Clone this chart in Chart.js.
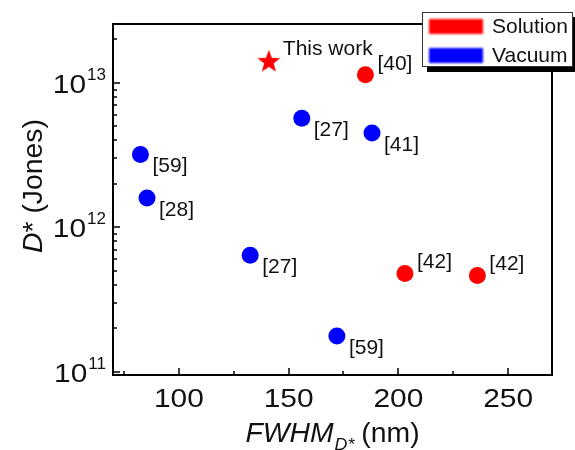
<!DOCTYPE html>
<html>
<head>
<meta charset="utf-8">
<script src="https://cdn.jsdelivr.net/npm/chart.js@4"></script>
<style>
  html, body { margin: 0; padding: 0; background: #fff; }
</style>
</head>
<body>
<canvas id="chart" width="575" height="450"></canvas>
<script>
// values
const solutionX = [185, 203, 236]
const solutionY = [1.14e13, 4.8e11, 4.65e11]
const solutionRefs = ['[40]', '[42]', '[42]']

const vacuumX = [82.5, 85.5, 132.5, 156, 172, 188]
const vacuumY = [3.2e12, 1.6e12, 6.4e11, 5.7e12, 1.77e11, 4.5e12]
const vacuumRefs = ['[59]', '[28]', '[27]', '[27]', '[59]', '[41]']

const thisWorkX = [141]
const thisWorkY = [1.4e13]
const thisWorkRefs = ['This work']

const xTicks = [100, 150, 200, 250]
const xMinorTicks = [75, 125, 175, 225]
const yTicks = [1e11, 1e12, 1e13]
const yTickExp = ['11', '12', '13']
const legendLabels = ['Solution', 'Vacuum']

const FONT = '"Liberation Sans", Arial, sans-serif'

// filled 5 point star for "This work"
function makeStar(r, color) {
    const c = document.createElement('canvas')
    c.width = c.height = r * 2 + 2
    const g = c.getContext('2d')
    g.fillStyle = color
    g.beginPath()
    for (let i = 0; i < 10; i++) {
        const rad = i % 2 == 0 ? r : r * 0.42
        const a = -Math.PI / 2 + i * Math.PI / 5
        g.lineTo(r + 1 + rad * Math.cos(a), r + 1 + rad * Math.sin(a))
    }
    g.closePath()
    g.fill()
    return c
}

function toPoints(xs, ys) {
    return xs.map((x, i) => ({x: x, y: ys[i]}))
}

// text with a bit of horizontal stretch, like the source figure
function txt(ctx, s, x, y, font, align, base, sx) {
    ctx.save()
    ctx.font = font
    ctx.textAlign = align || 'left'
    ctx.textBaseline = base || 'alphabetic'
    ctx.translate(x, y)
    ctx.scale(sx || 1, 1)
    ctx.fillText(s, 0, 0)
    ctx.restore()
}

const refs = [solutionRefs, vacuumRefs, thisWorkRefs]
const labelShift = [[12, -11], [12, 12], [14, -13]] // per dataset: right / up or down

const decorations = {
    id: 'decorations',
    beforeDatasetsDraw(chart) {
        const ctx = chart.ctx
        const a = chart.chartArea
        const xs = chart.scales.x, ys = chart.scales.y
        ctx.save()
        ctx.strokeStyle = '#000'
        ctx.fillStyle = '#111'
        ctx.lineWidth = 2
        ctx.strokeRect(a.left, a.top, a.right - a.left, a.bottom - a.top)

        // inward ticks, bottom axis
        ctx.lineWidth = 1.5
        ctx.beginPath()
        xTicks.forEach(v => {
            const p = Math.round(xs.getPixelForValue(v))
            ctx.moveTo(p, a.bottom); ctx.lineTo(p, a.bottom - 7)
        })
        xMinorTicks.forEach(v => {
            const p = Math.round(xs.getPixelForValue(v))
            ctx.moveTo(p, a.bottom); ctx.lineTo(p, a.bottom - 4)
        })
        // left axis, log ticks
        yTicks.forEach(v => {
            let p = Math.round(ys.getPixelForValue(v))
            ctx.moveTo(a.left, p); ctx.lineTo(a.left + 7, p)
            for (let m = 2; m < 10; m++) {
                if (v * m > ys.max) break
                p = Math.round(ys.getPixelForValue(v * m))
                ctx.moveTo(a.left, p); ctx.lineTo(a.left + 4, p)
            }
        })
        ctx.stroke()

        // tick labels
        xTicks.forEach(v => {
            txt(ctx, String(v), xs.getPixelForValue(v), a.bottom + 32, '26px ' + FONT, 'center', 'alphabetic', 1.15)
        })
        yTicks.forEach((v, i) => {
            const p = ys.getPixelForValue(v)
            ctx.font = '17px ' + FONT
            const w = ctx.measureText(yTickExp[i]).width
            const right = a.left - 7
            txt(ctx, yTickExp[i], right - w, p - 3, '17px ' + FONT, 'left')
            txt(ctx, '10', right - w - 1, p + 10, '26px ' + FONT, 'right', 'alphabetic', 1.15)
        })

        // x title: FWHM_D* (nm)
        const big = '27px ' + FONT, bigI = 'italic 27px ' + FONT, subI = 'italic 17px ' + FONT
        ctx.font = bigI; const w1 = ctx.measureText('FWHM').width
        ctx.font = subI; const w2 = ctx.measureText('D*').width
        ctx.font = big; const w3 = ctx.measureText(' (nm)').width
        const sx = 1.05
        let x0 = (a.left + a.right) / 2 - (w1 + w2 + w3) * sx / 2
        const yb = 442
        txt(ctx, 'FWHM', x0, yb, bigI, 'left', 'alphabetic', sx)
        txt(ctx, 'D*', x0 + w1 * sx + 1, yb + 8, subI, 'left', 'alphabetic', sx)
        txt(ctx, ' (nm)', x0 + (w1 + w2) * sx, yb, big, 'left', 'alphabetic', sx)

        // y title: D* (Jones)
        ctx.save()
        ctx.translate(42, 186)
        ctx.rotate(-Math.PI / 2)
        ctx.font = bigI; const d1 = ctx.measureText('D').width
        ctx.font = big; const d2 = ctx.measureText('* (Jones)').width
        const s0 = -(d1 + d2) * sx / 2
        txt(ctx, 'D', s0, 0, bigI, 'left', 'alphabetic', sx)
        txt(ctx, '* (Jones)', s0 + d1 * sx, 0, big, 'left', 'alphabetic', sx)
        ctx.restore()
        ctx.restore()
    },
    afterDraw(chart) {
        const ctx = chart.ctx
        ctx.save()
        ctx.fillStyle = '#111'
        // point labels
        chart.data.datasets.forEach((ds, di) => {
            const meta = chart.getDatasetMeta(di)
            meta.data.forEach((pt, i) => {
                txt(ctx, refs[di][i], pt.x + labelShift[di][0], pt.y + labelShift[di][1],
                    '21px ' + FONT, 'left', 'middle')
            })
        })

        // legend box with drop shadow
        const bx = 422, by = 12, bw = 151, bh = 55
        ctx.fillStyle = '#000'
        ctx.fillRect(bx + 5, by + 5, bw, bh)
        ctx.fillStyle = '#fff'
        ctx.fillRect(bx, by, bw, bh)
        ctx.strokeStyle = '#333'
        ctx.lineWidth = 1
        ctx.strokeRect(bx + 0.5, by + 0.5, bw - 1, bh - 1)
        legendLabels.forEach((lab, i) => {
            const cy = by + 14 + i * 29
            ctx.save()
            ctx.filter = 'blur(0.8px)'
            ctx.fillStyle = chart.data.datasets[i].backgroundColor
            ctx.fillRect(bx + 7, cy - 7, 54, 15)
            ctx.restore()
            ctx.fillStyle = '#111'
            txt(ctx, lab, bx + 70, cy + 1, '21px ' + FONT, 'left', 'middle')
        })
        ctx.restore()
    }
}

new Chart(document.getElementById('chart'), {
    type: 'scatter',
    data: {
        datasets: [
            {
                label: legendLabels[0],
                data: toPoints(solutionX, solutionY),
                backgroundColor: '#ff0000',
                borderWidth: 0,
                pointRadius: 8.5
            },
            {
                label: legendLabels[1],
                data: toPoints(vacuumX, vacuumY),
                backgroundColor: '#0000ff',
                borderWidth: 0,
                pointRadius: 8.5
            },
            {
                label: 'This work',
                data: toPoints(thisWorkX, thisWorkY),
                backgroundColor: '#ff0000',
                pointStyle: makeStar(12, '#ff0000'),
                pointRadius: 12
            }
        ]
    },
    options: {
        responsive: false,
        devicePixelRatio: 1,
        animation: false,
        clip: false,
        layout: {
            padding: {left: 113, right: 23, top: 24, bottom: 75}
        },
        scales: {
            x: {type: 'linear', min: 70, max: 270, display: false},
            y: {type: 'logarithmic', min: 9.5e10, max: 2.56e13, display: false}
        },
        plugins: {
            legend: {display: false},
            tooltip: {enabled: false}
        }
    },
    plugins: [decorations]
})
</script>
</body>
</html>
